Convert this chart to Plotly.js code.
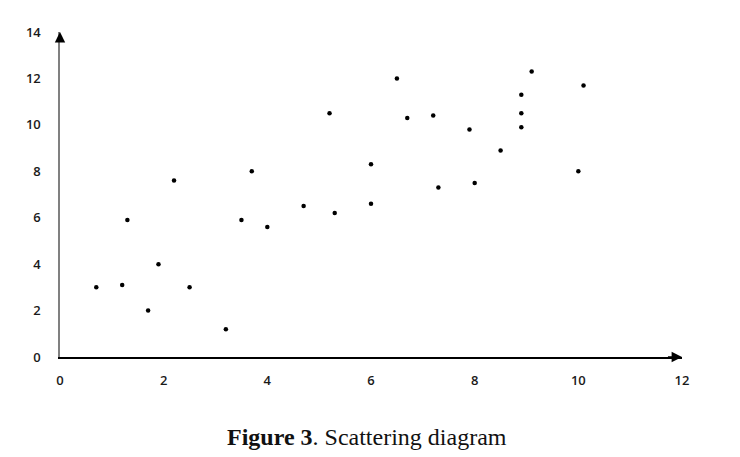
<!DOCTYPE html>
<html>
<head>
<meta charset="utf-8">
<script src="https://cdn.plot.ly/plotly-3.0.1.min.js"></script>
<style>html,body{margin:0;padding:0;background:#fff;}#chart{width:740px;height:457px;}</style>
</head>
<body>
<div id="chart"></div>
<script>
// Data
var xValues = [0.7, 1.2, 1.3, 1.7, 1.9, 2.2, 2.5, 3.2, 3.5, 3.7, 4.0, 4.7, 5.2, 5.3, 6.0, 6.0, 6.5, 6.7, 7.2, 7.3, 7.9, 8.0, 8.5, 8.9, 8.9, 8.9, 9.1, 10.0, 10.1];
var yValues = [3.0, 3.1, 5.9, 2.0, 4.0, 7.6, 3.0, 1.2, 5.9, 8.0, 5.6, 6.5, 10.5, 6.2, 8.3, 6.6, 12.0, 10.3, 10.4, 7.3, 9.8, 7.5, 8.9, 11.3, 10.5, 9.9, 12.3, 8.0, 11.7];
var xTicks = [0, 2, 4, 6, 8, 10, 12];
var yTicks = [0, 2, 4, 6, 8, 10, 12, 14];
var captionBold = "Figure 3";
var captionRest = ". Scattering diagram";

var trace = {
  x: xValues, y: yValues, type: 'scatter', mode: 'markers',
  marker: {color: '#000', size: 4.5, symbol: 'circle'},
  cliponaxis: false, hoverinfo: 'skip'
};

var tickFont = {family: 'Open Sans, Liberation Sans, Arial, sans-serif', size: 13, color: '#1a1a1a', weight: 600};

var layout = {
  width: 740, height: 457,
  margin: {l: 60, r: 58, t: 32, b: 100},
  paper_bgcolor: '#fff', plot_bgcolor: '#fff',
  showlegend: false,
  xaxis: {
    range: [0, 12], tickvals: xTicks, ticktext: xTicks.map(String),
    showgrid: false, zeroline: false, showline: true, linecolor: '#000', linewidth: 1.6,
    ticks: '', ticklabelstandoff: 11, tickfont: tickFont, fixedrange: true
  },
  yaxis: {
    range: [0, 14], tickvals: yTicks, ticktext: yTicks.map(String),
    showgrid: false, zeroline: false, showline: true, linecolor: '#808080', linewidth: 1.6,
    ticks: '', ticklabelstandoff: 15, tickfont: tickFont, fixedrange: true
  },
  annotations: [
    {x: 12, y: 0, ax: 11.7, ay: 0, axref: 'x', ayref: 'y', xref: 'x', yref: 'y',
     showarrow: true, arrowhead: 2, arrowsize: 1.3, arrowwidth: 1.6, arrowcolor: '#000', text: ''},
    {x: 0, y: 14, ax: 0, ay: 13.6, axref: 'x', ayref: 'y', xref: 'x', yref: 'y',
     showarrow: true, arrowhead: 2, arrowsize: 1.3, arrowwidth: 1.6, arrowcolor: '#000', text: ''},
    {xref: 'paper', yref: 'paper', x: 0.494, y: -0.246, xanchor: 'center', yanchor: 'middle',
     showarrow: false, text: '<b>' + captionBold + '</b>' + captionRest,
     font: {family: 'Liberation Serif, DejaVu Serif, serif', size: 24, color: '#111'}}
  ]
};

Plotly.newPlot('chart', [trace], layout, {displayModeBar: false, staticPlot: true});
</script>
</body>
</html>
